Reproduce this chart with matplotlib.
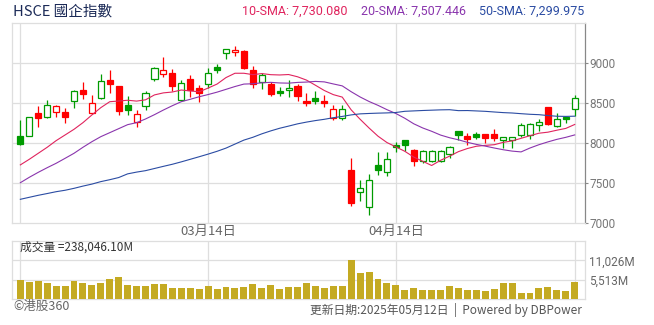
import numpy as np
import matplotlib
matplotlib.use("Agg")
import matplotlib.pyplot as plt

CJK = ['Noto Sans CJK TC', 'DejaVu Sans']
NUM = ['Roboto', 'DejaVu Sans']

# ---- daily OHLC (index points) ----
opens = [8090, 8088, 8379, 8333, 8388, 8391, 8525, 8663, 8379, 8566,
         8788, 8716, 8479, 8263, 8463, 8800, 8870, 8879, 8545, 8804,
         8688, 8738, 8954, 9125, 9138, 9154, 8916, 8763, 8741, 8654,
         8663, 8716, 8529, 8566, 8530, 8316, 8313, 7666, 7388, 7200,
         7725, 7641, 7979, 8037, 7912, 7775, 7775, 7778, 7866, 8150,
         8091, 8116, 8116, 8120, 8045, 8045, 8100, 8104, 8225, 8454,
         8212, 8329, 8425]
highs = [8290, 8330, 8466, 8541, 8479, 8441, 8660, 8766, 8604, 8866,
         8916, 8720, 8591, 8416, 8650, 8950, 9079, 8929, 8788, 8854,
         8725, 8938, 8991, 9180, 9216, 9160, 8966, 8875, 8770, 8700,
         8791, 8741, 8629, 8654, 8608, 8479, 8479, 7820, 7541, 7612,
         7891, 7891, 8012, 8040, 7929, 7912, 7916, 7920, 7966, 8155,
         8133, 8145, 8120, 8175, 8078, 8082, 8250, 8250, 8300, 8458,
         8375, 8333, 8604]
lows = [7975, 8085, 8208, 8320, 8333, 8258, 8445, 8558, 8370, 8558,
        8625, 8358, 8358, 8208, 8420, 8783, 8833, 8658, 8529, 8583,
        8520, 8688, 8875, 9050, 9095, 8925, 8695, 8683, 8591, 8591,
        8583, 8533, 8466, 8495, 8458, 8291, 8291, 7216, 7283, 7108,
        7608, 7595, 7891, 7904, 7716, 7758, 7762, 7765, 7812, 8041,
        7979, 8058, 8008, 8029, 7945, 7940, 8083, 8054, 8158, 8233,
        8204, 8250, 8341]
closes = [7995, 8325, 8320, 8475, 8463, 8325, 8658, 8613, 8500, 8783,
          8738, 8408, 8420, 8366, 8625, 8938, 8913, 8720, 8750, 8666,
          8633, 8875, 8920, 9175, 9166, 8938, 8738, 8854, 8613, 8629,
          8688, 8595, 8504, 8533, 8505, 8425, 8430, 7258, 7437, 7537,
          7666, 7800, 7958, 7983, 7783, 7900, 7904, 7908, 7950, 8108,
          8054, 8083, 8070, 8065, 8075, 8080, 8229, 8235, 8262, 8237,
          8300, 8308, 8562]
prev_close = 7920

# ---- turnover (millions) ----
volumes = [5500, 4845, 5130, 4560, 3705, 3705, 5130, 4560, 3990, 4560,
           5700, 6270, 3990, 3705, 3705, 4275, 4275, 3135, 3135, 3135,
           2850, 3705, 2850, 3420, 3135, 3420, 4275, 3135, 3990, 2850,
           3420, 3420, 4560, 3705, 3135, 3705, 3705, 11115, 7410, 7695,
           5700, 4560, 3990, 2565, 3135, 2565, 2565, 2565, 3705, 3135,
           2565, 2565, 2280, 2850, 4560, 4560, 1710, 1710, 3135, 3420,
           2565, 2280, 4845]

# ---- moving averages before enough in-window closes exist ----
sma10_lead = [7730.08, 7800, 7875, 7950, 8033, 8104, 8175, 8258, 8354]
sma20_lead = [7507.446, 7575, 7637, 7695, 7750, 7812, 7875, 7950, 8020, 8083,
              8133, 8183, 8233, 8258, 8304, 8358, 8416, 8470, 8520]
sma50_lead = [7299.975, 7325, 7350, 7372, 7395, 7413, 7437, 7465, 7490, 7521,
              7545, 7572, 7618, 7640, 7658, 7685, 7712, 7738, 7768, 7800,
              7832, 7865, 7900, 7940, 7990, 8040, 8075, 8118, 8155, 8188,
              8215, 8243, 8265, 8284, 8300, 8320, 8336, 8355, 8368, 8373,
              8377, 8380, 8385, 8400, 8405, 8410, 8414, 8418, 8420]

date_ticks = [21, 42]
date_labels = ["03月14日", "04月14日"]
price_ticks = [7000, 7500, 8000, 8500, 9000]
vol_ticks = [5513, 11026]
vol_labels = ["5,513M", "11,026M"]
grid_x = [0, 21, 42, 62]

title = "HSCE 國企指數"
sma_labels = ["10-SMA: 7,730.080", "20-SMA: 7,507.446", "50-SMA: 7,299.975"]
vol_text = "成交量 =238,046.10M"
brand = "©港股360"
footer = "更新日期:2025年05月12日  |  Powered by DBPower"

GREEN = "#009b00"
RED = "#ff0000"
SMA_COLORS = ["#e0245e", "#8a35ad", "#2b4ca3"]
GRID = "#dedede"
VOL_COLOR = "#c4aa22"

opens = np.array(opens, float)
highs = np.array(highs, float)
lows = np.array(lows, float)
closes = np.array(closes, float)
n = len(closes)
x = np.arange(n)


def sma(lead, window):
    out = np.empty(n)
    out[:len(lead)] = lead
    for i in range(len(lead), n):
        out[i] = closes[i - window + 1:i + 1].mean()
    return out


sma10 = sma(sma10_lead, 10)
sma20 = sma(sma20_lead, 20)
sma50 = sma(sma50_lead, 50)

W, H = 654, 325
fig = plt.figure(figsize=(W / 100, H / 100), dpi=100)
left = 12.3 / W
width = (585 - 12.3) / W
ax = fig.add_axes([left, 1 - 223.3 / H, width, 200 / H])
axv = fig.add_axes([left, 1 - 299 / H, width, 58 / H])

xlim = (-0.9, 63.15)

# ---- price panel ----
prev = np.concatenate([[prev_close], closes[:-1]])
colors = np.where(closes >= prev, GREEN, RED)
hollow = closes >= opens
faces = ["white" if h else c for h, c in zip(hollow, colors)]
ax.vlines(x, lows, highs, colors=colors, linewidth=0.9, zorder=2)
body_bottom = np.minimum(opens, closes)
body_h = np.maximum(np.abs(closes - opens), 8)
ax.bar(x, body_h, bottom=body_bottom, width=0.68, color=faces,
       edgecolor=colors, linewidth=0.9, zorder=3)

for s, c in zip([sma10, sma20, sma50], SMA_COLORS):
    ax.plot(x, s, color=c, linewidth=0.8, zorder=4)

ax.set_xlim(*xlim)
ax.set_ylim(7000, 9500)
for p in price_ticks[1:]:
    ax.axhline(p, color=GRID, linewidth=0.9, zorder=0)
for g in grid_x:
    ax.axvline(g, color=GRID, linewidth=0.9, zorder=0)

ax.yaxis.tick_right()
ax.set_yticks(price_ticks)
ax.set_yticklabels([str(p) for p in price_ticks], fontfamily=NUM)
ax.tick_params(axis="y", direction="out", length=2.4, width=0.8,
               color="#888888", labelcolor="#777777", labelsize=8.5, pad=0.8)
ax.set_xticks(date_ticks)
ax.set_xticklabels(date_labels, fontfamily=CJK)
ax.tick_params(axis="x", length=0, labelcolor="#666666", labelsize=9.5, pad=1.0)
for side in ["left", "top", "bottom"]:
    ax.spines[side].set_color(GRID)
    ax.spines[side].set_linewidth(0.9)
ax.spines["right"].set_color("#888888")
ax.spines["right"].set_linewidth(0.9)

# ---- turnover panel ----
axv.bar(x, volumes, width=0.78, color=VOL_COLOR, zorder=3)
axv.set_xlim(*xlim)
axv.set_ylim(0, 3 * 5513)
for v in vol_ticks:
    axv.axhline(v, color=GRID, linewidth=0.9, zorder=0)
for g in grid_x:
    axv.axvline(g, color=GRID, linewidth=0.9, zorder=0)
axv.set_xticks([])
axv.yaxis.tick_right()
axv.set_yticks(vol_ticks)
axv.set_yticklabels(vol_labels, fontfamily=NUM)
axv.tick_params(axis="y", length=0, labelcolor="#666666", labelsize=8.5, pad=3)
for side in axv.spines:
    axv.spines[side].set_color(GRID)
    axv.spines[side].set_linewidth(0.9)
axv.text(19.5 / W, 1 - 247.3 / H, vol_text, transform=fig.transFigure,
         fontsize=8.5, color="#333333", va="center", family=CJK)

# ---- header and footer ----
fig.text(13 / W, 1 - 11.5 / H, title, fontsize=10.5, color="#1b2a57",
         va="center", family=CJK)
for xs, lab, c in zip([241.7, 361, 479], sma_labels, SMA_COLORS):
    fig.text(xs / W, 1 - 11.5 / H, lab, fontsize=9, color=c,
             va="center", family=NUM)
fig.text(13 / W, 1 - 306 / H, brand, fontsize=9, color="#666666",
         va="center", family=CJK)
fig.text(582 / W, 1 - 310 / H, footer, fontsize=8.5, color="#555555",
         va="center", ha="right", family=CJK)

fig.savefig("out.png", dpi=100)
